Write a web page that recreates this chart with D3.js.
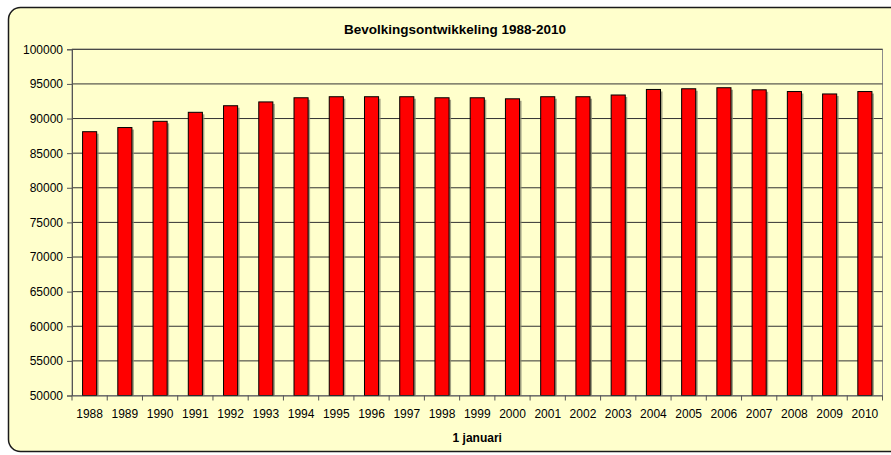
<!DOCTYPE html>
<html>
<head>
<meta charset="utf-8">
<script src="https://cdn.jsdelivr.net/npm/d3@7"></script>
<style>
  body { margin: 0; background: #fff; }
  svg { display: block; font-family: "Liberation Sans", Arial, sans-serif; }
</style>
</head>
<body>
<div id="chart"></div>
<script>
const years = ['1988', '1989', '1990', '1991', '1992', '1993', '1994', '1995', '1996', '1997', '1998', '1999',
  '2000', '2001', '2002', '2003', '2004', '2005', '2006', '2007', '2008', '2009', '2010'];
const population = [88100, 88700, 89600, 90900, 91850, 92400, 93000, 93150, 93150, 93150, 93000, 93000,
  92850, 93150, 93150, 93400, 94200, 94300, 94450, 94150, 93900, 93550, 93900];
const yTicks = [50000, 55000, 60000, 65000, 70000, 75000, 80000, 85000, 90000, 95000, 100000];

const width = 891;
const height = 455;
const plot = { left: 72, right: 882.5, top: 49.3, bottom: 395.5 };

const svg = d3.select('#chart')
  .append('svg')
  .attr('width', width)
  .attr('height', height);

// outer chart frame (runs off the right edge like the original)
svg.append('rect')
  .attr('x', 8.5)
  .attr('y', 7.5)
  .attr('width', 930)
  .attr('height', 444)
  .attr('rx', 12)
  .attr('fill', '#ffffcc')
  .attr('stroke', '#1a1a1a')
  .attr('stroke-width', 1.5);

svg.append('text')
  .attr('x', 455)
  .attr('y', 34)
  .attr('text-anchor', 'middle')
  .attr('font-size', '13.5px')
  .attr('font-weight', 'bold')
  .text('Bevolkingsontwikkeling 1988-2010');

const x = d3.scaleBand()
  .domain(years)
  .range([plot.left, plot.right])
  .paddingInner(0.6)
  .paddingOuter(0.3);

const y = d3.scaleLinear()
  .domain([50000, 100000])
  .range([plot.bottom, plot.top]);

// plot area border
svg.append('rect')
  .attr('x', plot.left)
  .attr('y', plot.top)
  .attr('width', plot.right - plot.left)
  .attr('height', plot.bottom - plot.top)
  .attr('fill', 'none')
  .attr('stroke', '#8c8c8c');

// gridlines
svg.append('g')
  .selectAll('line')
  .data(yTicks.slice(1))
  .enter().append('line')
    .attr('x1', plot.left)
    .attr('x2', plot.right)
    .attr('y1', (d) => y(d))
    .attr('y2', (d) => y(d))
    .attr('stroke', '#333')
    .attr('stroke-width', 1);

// bars with a soft shadow
const bar = svg.append('g')
  .selectAll('g')
  .data(years)
  .enter().append('g');

bar.append('rect')
  .attr('x', (d) => x(d) + 2)
  .attr('y', (d, i) => y(population[i]) + 2)
  .attr('width', x.bandwidth())
  .attr('height', (d, i) => y(50000) - y(population[i]) - 2)
  .attr('fill', '#8a8a70')
  .attr('opacity', 0.8);

bar.append('rect')
  .attr('x', (d) => x(d))
  .attr('y', (d, i) => y(population[i]))
  .attr('width', x.bandwidth())
  .attr('height', (d, i) => y(50000) - y(population[i]))
  .attr('fill', '#ff0000')
  .attr('stroke', '#000')
  .attr('stroke-width', 1);

// y axis
const yAxis = svg.append('g')
  .attr('transform', `translate(${plot.left},0)`)
  .call(d3.axisLeft(y).tickValues(yTicks).tickSize(5).tickPadding(4).tickFormat(d3.format('d')));
yAxis.select('.domain').attr('stroke', '#555');
yAxis.selectAll('.tick line').attr('stroke', '#555');
yAxis.selectAll('text').attr('font-size', '12px').attr('fill', '#000').attr('font-family', '"Liberation Sans", Arial, sans-serif');

// x axis: labels centred on the bars, tick marks between categories
const xAxis = svg.append('g')
  .attr('transform', `translate(0,${plot.bottom})`)
  .call(d3.axisBottom(x).tickSize(0).tickPadding(14));
xAxis.select('.domain').attr('stroke', '#555');
xAxis.selectAll('text').attr('font-size', '12px').attr('fill', '#000').attr('font-family', '"Liberation Sans", Arial, sans-serif');

const boundaries = d3.range(years.length + 1).map((i) => x.range()[0] + i * x.step());
svg.append('g')
  .selectAll('line')
  .data(boundaries)
  .enter().append('line')
    .attr('x1', (d) => d)
    .attr('x2', (d) => d)
    .attr('y1', plot.bottom)
    .attr('y2', plot.bottom + 5)
    .attr('stroke', '#555');

svg.append('text')
  .attr('x', (plot.left + plot.right) / 2)
  .attr('y', 442)
  .attr('text-anchor', 'middle')
  .attr('font-size', '12px')
  .attr('font-weight', 'bold')
  .text('1 januari');
</script>
</body>
</html>
